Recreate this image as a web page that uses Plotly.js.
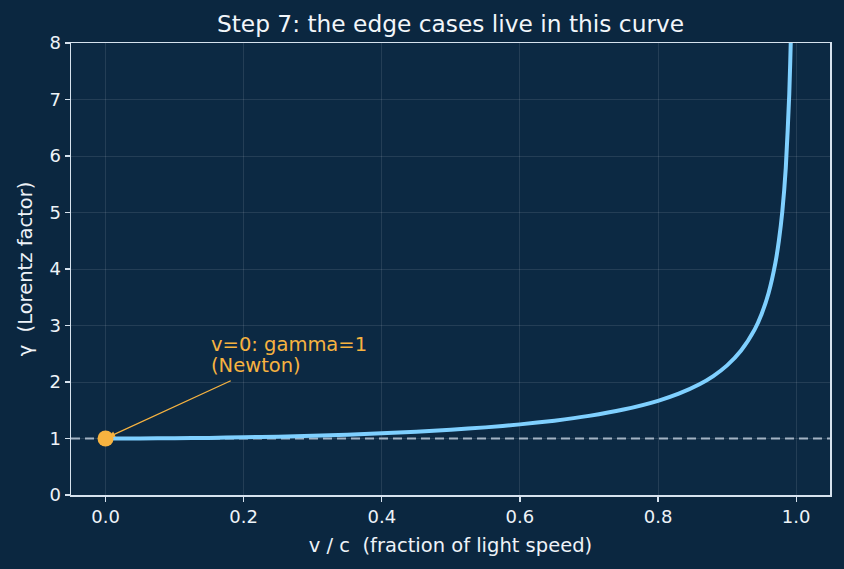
<!DOCTYPE html>
<html><head><meta charset="utf-8">
<script src="https://cdn.plot.ly/plotly-3.0.1.min.js"></script>
<style>html,body{margin:0;padding:0;background:#0b2740;}#c{width:844px;height:569px;}</style>
</head><body><div id="c"></div>
<script>
const speedFraction = [0, 0.05, 0.1, 0.15, 0.2, 0.25, 0.3, 0.35, 0.4, 0.45, 0.5, 0.55, 0.6, 0.65, 0.7, 0.75, 0.8, 0.83, 0.86, 0.88, 0.9, 0.92, 0.94, 0.95, 0.96, 0.97, 0.975, 0.98, 0.985, 0.99, 0.9925, 0.995];
const gammaValues   = [1, 1.001, 1.005, 1.011, 1.021, 1.033, 1.048, 1.068, 1.091, 1.120, 1.155, 1.197, 1.25, 1.316, 1.400, 1.512, 1.667, 1.793, 1.960, 2.105, 2.294, 2.552, 2.931, 3.203, 3.571, 4.113, 4.502, 5.025, 5.795, 7.089, 8.17, 10.01];
const newtonPoint = {v: [0], g: [1]};
const baseline = {v: [-0.05, 1.05], g: [1, 1]};
const xTicks = [0, 0.2, 0.4, 0.6, 0.8, 1.0];
const xTickLabels = ['0.0', '0.2', '0.4', '0.6', '0.8', '1.0'];
const yTicks = [0, 1, 2, 3, 4, 5, 6, 7, 8];

const font = 'DejaVu Sans, sans-serif';
const spine = '#d6e2ee';
const grid = 'rgba(255,255,255,0.10)';

const data = [
  {x: baseline.v, y: baseline.g, mode: 'lines', line: {color: '#a3b3c4', width: 2, dash: '9px,5px'}, hoverinfo: 'skip'},
  {x: speedFraction, y: gammaValues, mode: 'lines', line: {color: '#7fd0ff', width: 4, shape: 'spline', smoothing: 0.6}},
  {x: newtonPoint.v, y: newtonPoint.g, mode: 'markers', marker: {color: '#f7b340', size: 16}}
];

const layout = {
  width: 844, height: 569,
  paper_bgcolor: '#0b2740', plot_bgcolor: '#0c2943',
  margin: {l: 71, r: 14, t: 43, b: 74},
  showlegend: false,
  font: {family: font, color: '#eef3f8', size: 18},
  title: {text: 'Step 7: the edge cases live in this curve', font: {family: font, size: 23.3, color: '#f2f6fa'}, xref: 'paper', x: 0.5, xanchor: 'center', y: 0.958, yanchor: 'middle'},
  xaxis: {
    range: [-0.05, 1.049], tickvals: xTicks, ticktext: xTickLabels,
    showgrid: true, gridcolor: grid, gridwidth: 1, zeroline: false,
    showline: true, linecolor: spine, linewidth: 1.5, mirror: true,
    ticks: 'outside', ticklen: 5, tickcolor: spine, tickwidth: 1.2,
    tickfont: {family: font, size: 18, color: '#eef3f8'},
    title: {text: 'v / c  (fraction of light speed)', font: {family: font, size: 19.5, color: '#eef3f8'}, standoff: 12}
  },
  yaxis: {
    range: [0, 8], tickvals: yTicks,
    showgrid: true, gridcolor: grid, gridwidth: 1, zeroline: false,
    showline: true, linecolor: spine, linewidth: 1.5, mirror: true,
    ticks: 'outside', ticklen: 5, tickcolor: spine, tickwidth: 1.2,
    tickfont: {family: font, size: 18, color: '#eef3f8'},
    title: {text: 'γ  (Lorentz factor)', font: {family: font, size: 19.5, color: '#eef3f8'}, standoff: 11}
  },
  annotations: [
    {x: 0.15, y: 2.66, xref: 'x', yref: 'y', xanchor: 'left', yanchor: 'middle', align: 'left', showarrow: false,
     text: 'v=0: gamma=1', font: {family: font, size: 19.5, color: '#f7b340'}},
    {x: 0.15, y: 2.29, xref: 'x', yref: 'y', xanchor: 'left', yanchor: 'middle', align: 'left', showarrow: false,
     text: '(Newton)', font: {family: font, size: 19.5, color: '#f7b340'}},
    {x: 0.005, y: 1.03, xref: 'x', yref: 'y', ax: 0.1835, ay: 2.035, axref: 'x', ayref: 'y', text: '', showarrow: true,
     arrowhead: 2, arrowsize: 1, arrowwidth: 1.2, arrowcolor: '#f7b340'}
  ]
};

Plotly.newPlot('c', data, layout, {displayModeBar: false, staticPlot: true});
</script></body></html>
